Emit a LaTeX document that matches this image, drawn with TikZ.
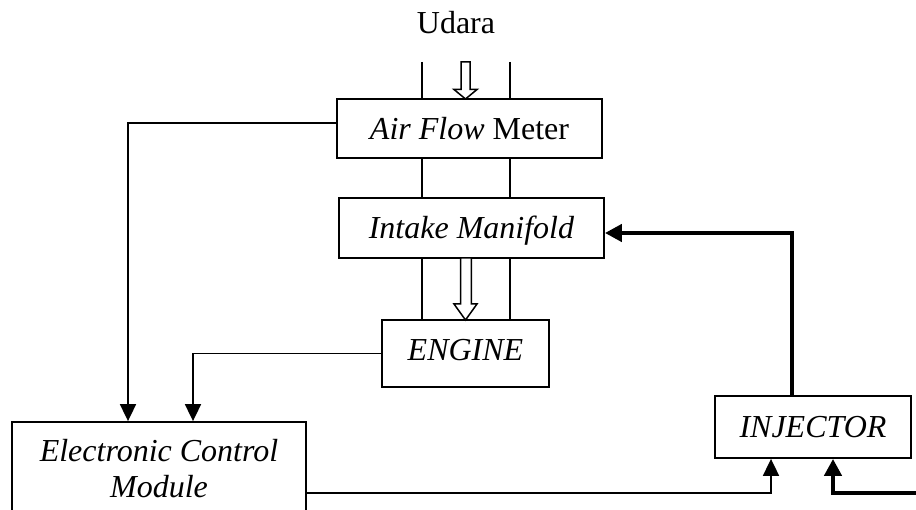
\documentclass[tikz,border=0pt]{standalone}
\usepackage{fontspec}
\setmainfont{Liberation Serif}
\usetikzlibrary{arrows.meta}
\begin{document}
\begin{tikzpicture}[x=1pt,y=-1pt,
  every node/.style={font=\fontsize{32}{36}\selectfont},
  frame/.style={draw,line width=1.8pt,inner sep=0pt},
  box/.style={frame,text height=24pt,text depth=2pt},
  arr/.style={line width=1.8pt,-{Triangle[width=16pt,length=17pt]}},
  fatarr/.style={line width=4.5pt,-{Triangle[width=17pt,length=17pt]}},
  pipe/.style={line width=1.8pt},
  hollow/.style={draw,line width=1.5pt,fill=white,line join=miter}]
  \clip (0,0) rectangle (916,510);
  \fill[white] (0,0) rectangle (916,510);

  % air inlet label
  \node[anchor=base] (udara) at (456,34) {Udara};

  % blocks
  \node[box,minimum width=265pt,minimum height=59pt] (afm) at (469.5,128.5) {\textit{Air Flow} Meter};
  \node[box,minimum width=265pt,minimum height=60pt] (intake) at (471.5,228) {\textit{Intake Manifold}};
  \node[box,minimum width=167pt,minimum height=67pt,text height=20pt,text depth=5pt] (engine) at (465.5,353.5) {\textit{ENGINE}};
  \node[box,minimum width=196pt,minimum height=62pt] (inj) at (813,427) {\textit{INJECTOR}};
  \node[frame,minimum width=294pt,minimum height=100pt] (ecm) at (159,472) {};
  \node[anchor=base] (ecmline1) at (159,461) {\textit{Electronic Control}};
  \node[anchor=base] (ecmline2) at (159,497) {\textit{Module}};

  % air duct walls
  \coordinate (ductL) at (422,62);
  \coordinate (ductR) at (510,62);
  \draw[pipe] (ductL) -- (ductL |- afm.north);
  \draw[pipe] (ductR) -- (ductR |- afm.north);
  \draw[pipe] (ductL |- afm.south) -- (ductL |- intake.north);
  \draw[pipe] (ductR |- afm.south) -- (ductR |- intake.north);
  \draw[pipe] (ductL |- intake.south) -- (ductL |- engine.north);
  \draw[pipe] (ductR |- intake.south) -- (ductR |- engine.north);

  % air flow arrows (hollow)
  \draw[hollow] (461,62) -- (470,62) -- (470,89.5) -- (477,89.5) -- (465.5,99)
    -- (454,89.5) -- (461,89.5) -- cycle;
  \draw[hollow] (460.7,258) -- (471.3,258) -- (471.3,304) -- (477,304) -- (465.5,320)
    -- (454,304) -- (460.7,304) -- cycle;

  % sensor signals to the ECM
  \draw[arr] ([yshift=5.5pt]afm.west) -| ([xshift=-31pt]ecm.north);
  \draw[arr] (engine.west) -| ([xshift=34pt]ecm.north);

  % ECM command to the injector
  \draw[arr] ([yshift=-21pt]ecm.east) -| ([xshift=-42pt]inj.south);

  % fuel supply and injection
  \coordinate (fuelin) at (916,493);
  \draw[fatarr] (fuelin) -| ([xshift=20pt]inj.south);
  \draw[fatarr] ([xshift=-21pt]inj.north) |- ([yshift=-5pt]intake.east);
\end{tikzpicture}
\end{document}
